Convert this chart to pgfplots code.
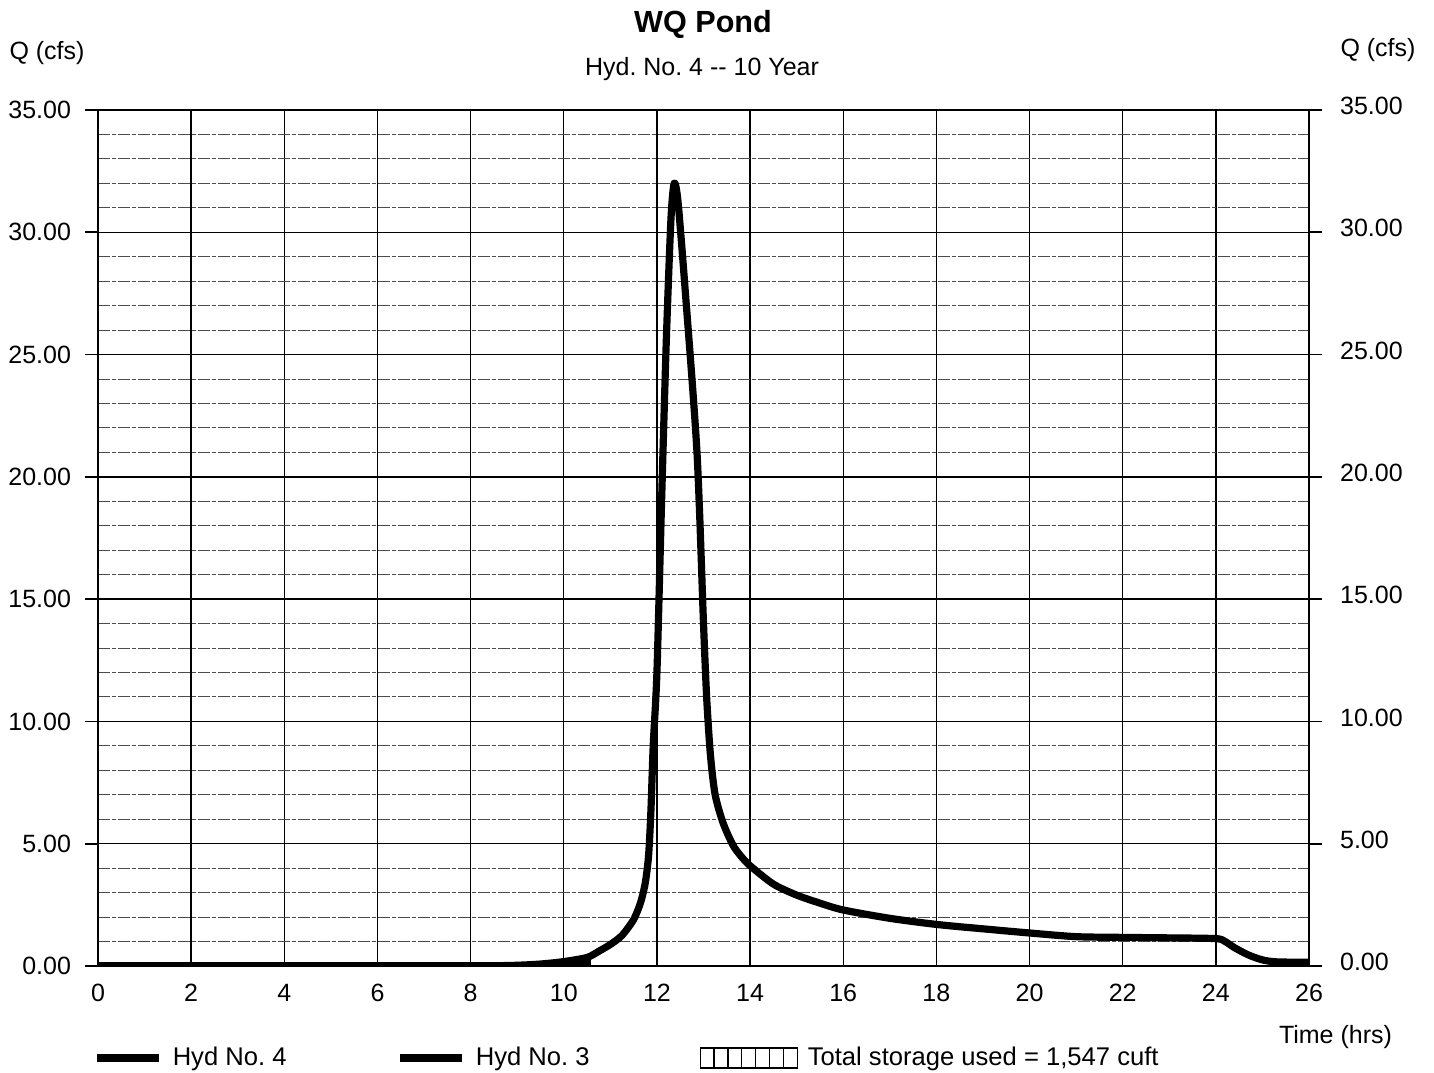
\documentclass[border=0pt]{standalone}
\usepackage{pgfplots}
\pgfplotsset{compat=1.18}
\usepackage{fontspec}
\setmainfont{Liberation Sans}
\frenchspacing
\pgfplotstableread{
x y
0 0
8 0
8.5 0.01
9 0.03
9.5 0.08
10 0.18
10.5 0.35
10.75 0.6
11 0.88
11.25 1.25
11.5 1.9
11.65 2.6
11.75 3.4
11.82 4.5
11.87 6.3
11.92 9.0
12.0 12.0
12.1 19.0
12.2 25.5
12.3 30.5
12.37 32.0
12.45 31.3
12.6 27.8
12.86 21.0
13.0 14.0
13.07 10.9
13.15 8.6
13.25 7.0
13.42 5.85
13.63 4.95
13.8 4.5
14.0 4.1
14.5 3.35
15.0 2.9
15.5 2.57
16.0 2.29
17.0 1.95
18.0 1.70
19.0 1.52
20.0 1.35
21.0 1.2
22.0 1.17
23.0 1.15
24.0 1.12
24.2 1.0
24.4 0.75
24.7 0.45
25.0 0.25
25.3 0.17
26.0 0.15
}\hydthree
\pgfplotstableread{
x y
0 0
10.5 0
10.5 0.35
}\hydfour
\begin{document}
\begin{tikzpicture}[x=1pt,y=1pt]
\path[use as bounding box] (0,0) rectangle (717,536);
\begin{axis}[
  at={(49pt,53pt)}, anchor=south west,
  scale only axis, width=605.5pt, height=428pt,
  xmin=0, xmax=26, ymin=0, ymax=35,
  xtick={0,2,...,26}, ytick={0,5,...,35},
  minor ytick={0,1,...,35},
  grid=both,
  major grid style={black, line width=0.7pt},
  minor grid style={black!70, line width=0.5pt, dash pattern=on 6pt off 1pt on 2pt off 1pt},
  axis line style={black, line width=0.8pt},
  tick align=outside,
  major tick length=6.5pt,
  minor tick length=0pt,
  xtick style={draw=none},
  ytick style={black, line width=0.8pt},
  ytick pos=left,
  yticklabel style={/pgf/number format/fixed, /pgf/number format/fixed zerofill, /pgf/number format/precision=2},
  /pgf/number format/assume math mode=true,
  ticklabel style={font=\fontsize{12.5}{14}\selectfont},
  xticklabel style={yshift=1pt},
  yticklabel style={xshift=-3.5pt},
  legend style={at={(-0.004,-0.1075)}, anchor=west, draw=none, fill=none,
    legend columns=3, font=\fontsize{12.8}{14}\selectfont,
    /tikz/every odd column/.append style={column sep=5pt},
    /tikz/every even column/.append style={column sep=55pt},
    legend cell align=left, inner sep=0pt,
    nodes={inner sep=0pt}},
]
\addplot[black, line width=3.6pt, line join=round,
  legend image code/.code={\draw[black, line width=3.6pt] (0pt,0pt) -- (31pt,0pt);}]
  table[x=x,y=y]{\hydfour};
\addlegendentry{Hyd No. 4}
\addplot[black, line width=3.6pt, line join=round, smooth, tension=0.45,
  legend image code/.code={\draw[black, line width=3.6pt] (0pt,0pt) -- (31pt,0pt);}]
  table[x=x,y=y]{\hydthree};
\addlegendentry{Hyd No. 3}
\addlegendimage{legend image code/.code={
  \draw[black, line width=0.6pt] (0pt,-5pt) rectangle (48.5pt,5pt);
  \foreach \i in {1,...,6} {\draw[black, line width=0.6pt] (\i*6.93pt,-5pt) -- (\i*6.93pt,5pt);}
}}
\addlegendentry{Total storage used = 1,547 cuft}
\end{axis}
\begin{axis}[
  at={(49pt,53pt)}, anchor=south west,
  scale only axis, width=605.5pt, height=428pt,
  xmin=0, xmax=26, ymin=0, ymax=35,
  axis y line*=right, axis x line=none,
  ytick={0,5,...,35},
  tick align=outside,
  major tick length=6.5pt,
  ytick style={black, line width=0.8pt},
  axis line style={black, line width=0.8pt},
  yticklabel style={/pgf/number format/fixed, /pgf/number format/fixed zerofill, /pgf/number format/precision=2},
  /pgf/number format/assume math mode=true,
  ticklabel style={font=\fontsize{12.5}{14}\selectfont},
  yticklabel style={xshift=5.5pt, yshift=2pt},
]
\end{axis}
\node[font=\bfseries\fontsize{15.3}{18}\selectfont] at (351.5,524) {WQ Pond};
\node[font=\fontsize{12.5}{14}\selectfont] at (351,501.5) {Hyd. No. 4 -{}- 10 Year};
\node[font=\fontsize{12.5}{14}\selectfont] at (23.5,509.5) {Q (cfs)};
\node[font=\fontsize{12.5}{14}\selectfont] at (689,511) {Q (cfs)};
\node[font=\fontsize{12.5}{14}\selectfont, anchor=east] at (699.5,17.5) {Time (hrs)};
\end{tikzpicture}
\end{document}
